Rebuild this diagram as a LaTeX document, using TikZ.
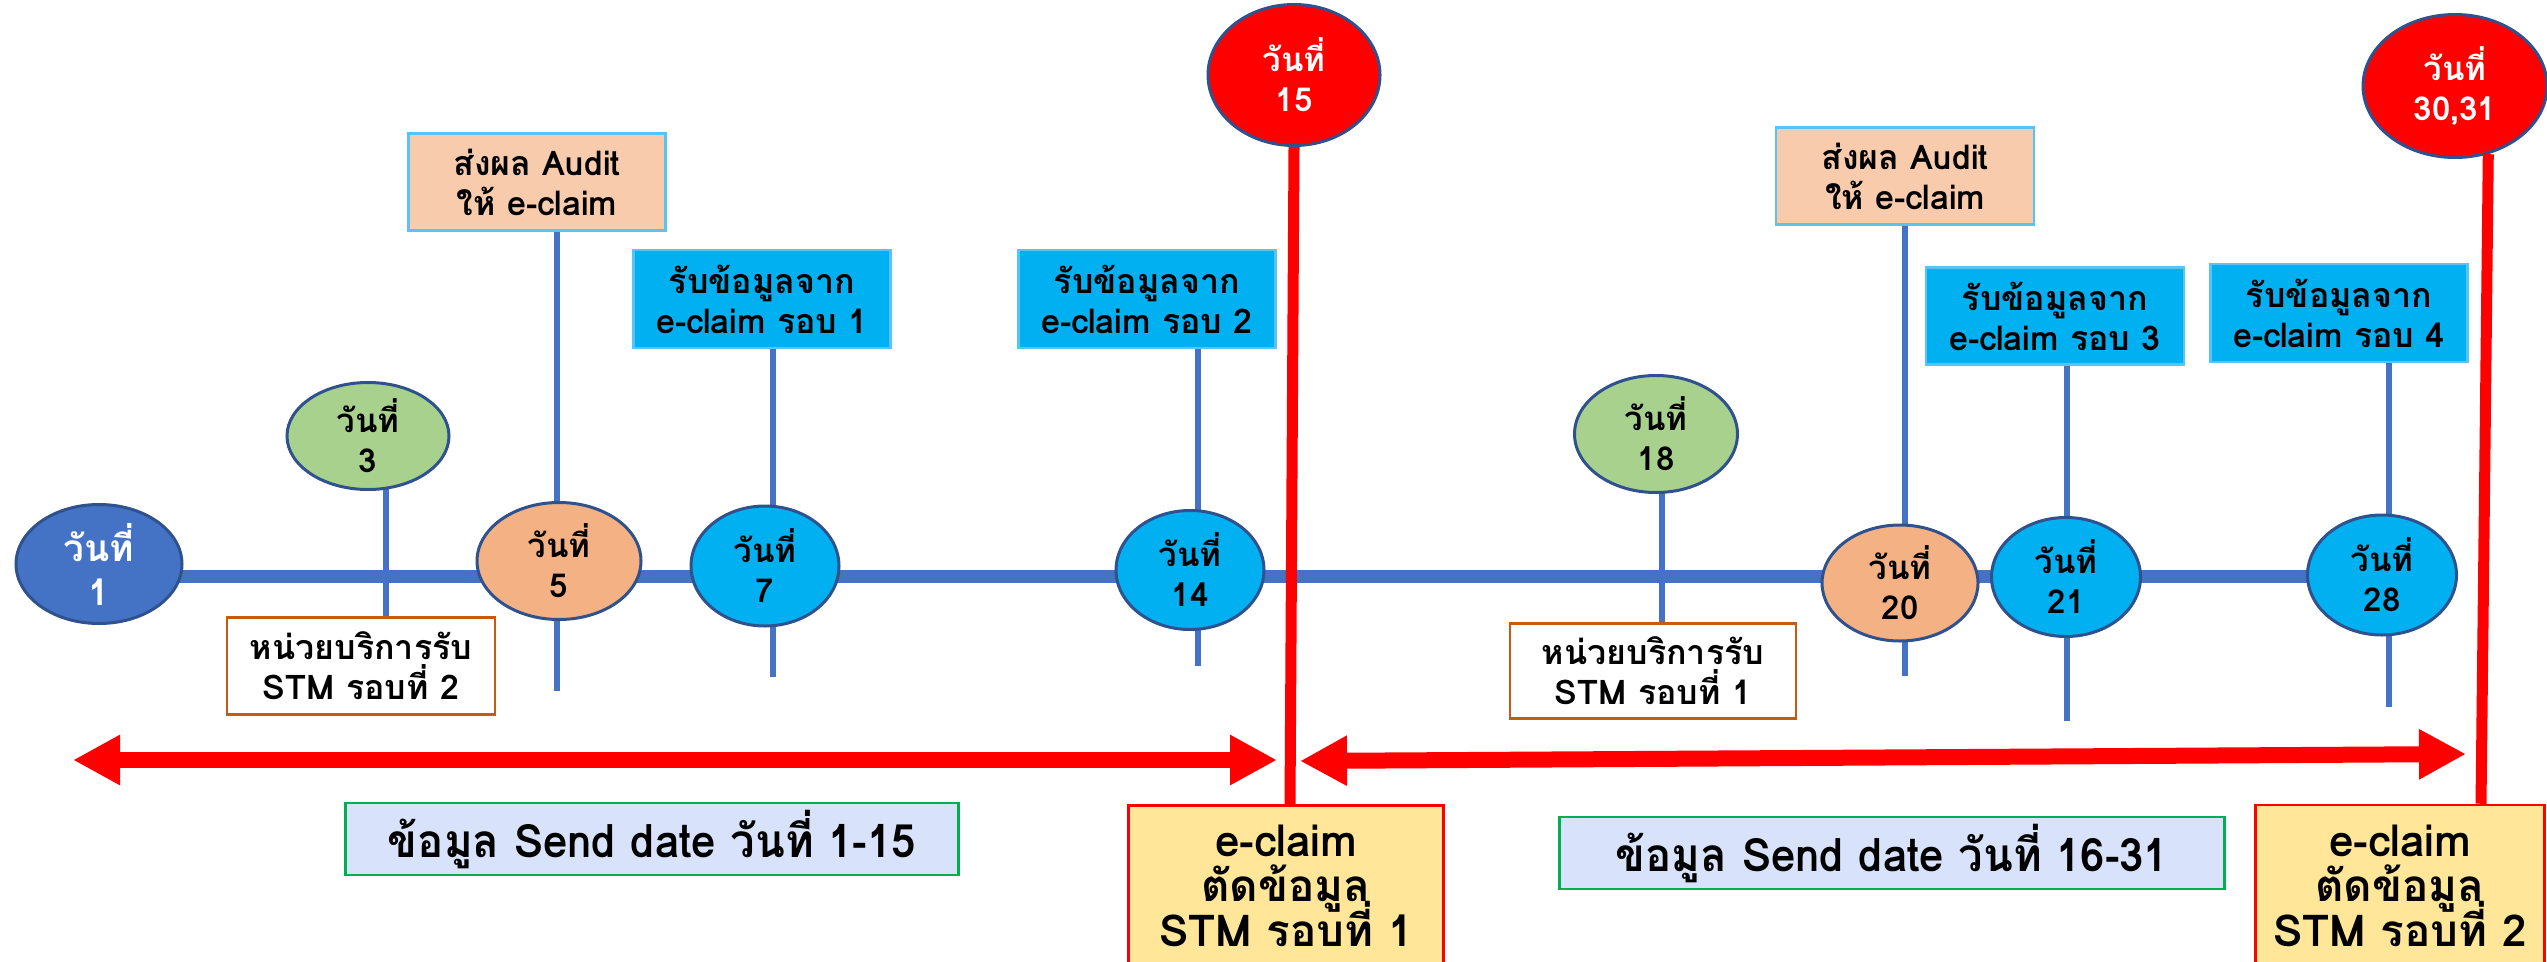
\documentclass[tikz,border=0pt]{standalone}
\usepackage{fontspec}
\setmainfont[Script=Thai]{Loma}
\newfontfamily\narrowfont[Script=Thai,FakeStretch=0.95]{Loma}
\usetikzlibrary{shapes.geometric,arrows.meta,backgrounds}
\newcommand\tightlines{\lineskiplimit-100pt\relax}

\definecolor{axisblue}{RGB}{68,114,196}
\definecolor{rimblue}{RGB}{47,82,143}
\definecolor{daygreen}{RGB}{169,209,142}
\definecolor{dayorange}{RGB}{244,177,131}
\definecolor{daycyan}{RGB}{0,176,240}
\definecolor{dayred}{RGB}{255,0,0}
\definecolor{auditfill}{RGB}{248,203,173}
\definecolor{boxedge}{RGB}{86,196,245}
\definecolor{stmedge}{RGB}{197,90,17}
\definecolor{sendfill}{RGB}{216,226,250}
\definecolor{sendedge}{RGB}{0,176,80}
\definecolor{cutfill}{RGB}{255,230,153}

\tikzset{
  day/.style={shape=ellipse,draw=rimblue,line width=3pt,inner sep=0pt,align=center,
    font=\fontsize{33}{40}\selectfont\bfseries},
  note/.style={shape=rectangle,line width=2.5pt,inner sep=0pt,align=center,
    font=\fontsize{34}{40}\selectfont\bfseries},
  sendbox/.style={note,fill=sendfill,draw=sendedge,
    font=\fontsize{46}{48}\selectfont\narrowfont\bfseries},
  cutbox/.style={note,fill=cutfill,draw=dayred,
    font=\fontsize{44}{45}\selectfont\bfseries\tightlines},
  axis/.style={draw=axisblue,line width=13pt},
  stem/.style={draw=axisblue,line width=6pt},
  cutline/.style={draw=dayred,line width=11pt},
  span/.style={draw=dayred,line width=16pt,
    {Triangle[length=47pt,width=47pt]}-{Triangle[length=47pt,width=47pt]}}
}

\begin{document}
\begin{tikzpicture}[x=1pt,y=-1pt]
  \useasboundingbox (0,0) rectangle (2547,961);

  \node[day,fill=axisblue,text=white,minimum width=166pt,minimum height=119pt,font=\fontsize{37}{44}\selectfont\bfseries] (d1) at (99,564) {วันที่\\1};
  \node[day,fill=daygreen,minimum width=162pt,minimum height=107pt] (d3) at (368,436) {วันที่\\3};
  \node[day,fill=dayorange,minimum width=164pt,minimum height=117pt] (d5) at (559,561) {วันที่\\5};
  \node[day,fill=daycyan,minimum width=148pt,minimum height=120pt] (d7) at (765,566) {วันที่\\7};
  \node[day,fill=daycyan,minimum width=148pt,minimum height=119pt] (d14) at (1190,570) {วันที่\\14};
  \node[day,fill=dayred,text=white,minimum width=172pt,minimum height=141pt] (d15) at (1294,75) {วันที่\\15};
  \node[day,fill=daygreen,minimum width=163pt,minimum height=117pt] (d18) at (1656,434) {วันที่\\18};
  \node[day,fill=dayorange,minimum width=156pt,minimum height=116pt] (d20) at (1900,583) {วันที่\\20};
  \node[day,fill=daycyan,minimum width=149pt,minimum height=119pt] (d21) at (2066,577) {วันที่\\21};
  \node[day,fill=daycyan,minimum width=149pt,minimum height=120pt] (d28) at (2382,575) {วันที่\\28};
  \node[day,fill=dayred,text=white,minimum width=184pt,minimum height=143pt] (d3031) at (2455,86) {วันที่\\30,31};

  \node[note,fill=auditfill,draw=boxedge,minimum width=257pt,minimum height=97pt] (audit1) at (537,182) {ส่งผล Audit\\ให้ e-claim};
  \node[note,fill=daycyan,draw=boxedge,minimum width=257pt,minimum height=98pt] (rnd1) at (762,299) {รับข้อมูลจาก\\e-claim รอบ 1};
  \node[note,fill=daycyan,draw=boxedge,minimum width=257pt,minimum height=98pt] (rnd2) at (1147,299) {รับข้อมูลจาก\\e-claim รอบ 2};
  \node[note,fill=white,draw=stmedge,minimum width=268pt,minimum height=97pt] (stm2) at (361,666) {หน่วยบริการรับ\\STM รอบที่ 2};
  \node[note,fill=white,draw=stmedge,minimum width=286pt,minimum height=95pt] (stm1) at (1653,671) {หน่วยบริการรับ\\STM รอบที่ 1};
  \node[note,fill=auditfill,draw=boxedge,minimum width=258pt,minimum height=97pt] (audit2) at (1905,176) {ส่งผล Audit\\ให้ e-claim};
  \node[note,fill=daycyan,draw=boxedge,minimum width=258pt,minimum height=97pt] (rnd3) at (2055,316) {รับข้อมูลจาก\\e-claim รอบ 3};
  \node[note,fill=daycyan,draw=boxedge,minimum width=257pt,minimum height=98pt] (rnd4) at (2339,313) {รับข้อมูลจาก\\e-claim รอบ 4};

  \node[sendbox,minimum width=613pt,minimum height=72pt] (send1) at (652,839) {ข้อมูล Send date วันที่ 1-15};
  \node[sendbox,minimum width=665pt,minimum height=72pt] (send2) at (1892,853) {ข้อมูล Send date วันที่ 16-31};
  \node[cutbox,minimum width=315pt,minimum height=161pt] (cut1) at (1286,886) {e-claim\\ตัดข้อมูล\\STM รอบที่ 1};
  \node[cutbox,minimum width=289pt,minimum height=162pt] (cut2) at (2400,886) {e-claim\\ตัดข้อมูล\\STM รอบที่ 2};

  \coordinate (axis) at (0,576);
  \coordinate (s3) at (386,618);
  \coordinate (s5) at (557,691);
  \coordinate (s7) at (773,677);
  \coordinate (s14) at (1198,666);
  \coordinate (s18) at (1662,624);
  \coordinate (s20) at (1905,676);
  \coordinate (s21) at (2067,721);
  \coordinate (s28) at (2389,707);

  \begin{pgfonlayer}{background}
    \path[axis] (d1 |- axis) -- (d28 |- axis);
    \path[stem] (d3 -| s3) -- (s3);
    \path[stem] (audit1.south -| s5) -- (s5);
    \path[stem] (rnd1.south -| s7) -- (s7);
    \path[stem] (rnd2.south -| s14) -- (s14);
    \path[stem] (d18 -| s18) -- (s18);
    \path[stem] (audit2.south -| s20) -- (s20);
    \path[stem] (rnd3.south -| s21) -- (s21);
    \path[stem] (rnd4.south -| s28) -- (s28);
  \end{pgfonlayer}

  \coordinate (a1) at (73,760);
  \coordinate (b1) at (1277,760);
  \coordinate (a2) at (1300,761);
  \coordinate (b2) at (2466,754);
  \path[span] (a1) -- (b1);
  \path[span] (a2) -- (b2);

  \path[cutline] (d15.south) -- ([xshift=4pt]cut1.north);
  \path[cutline] (d3031.-64) -- ([xshift=81pt]cut2.north);

\end{tikzpicture}
\end{document}
